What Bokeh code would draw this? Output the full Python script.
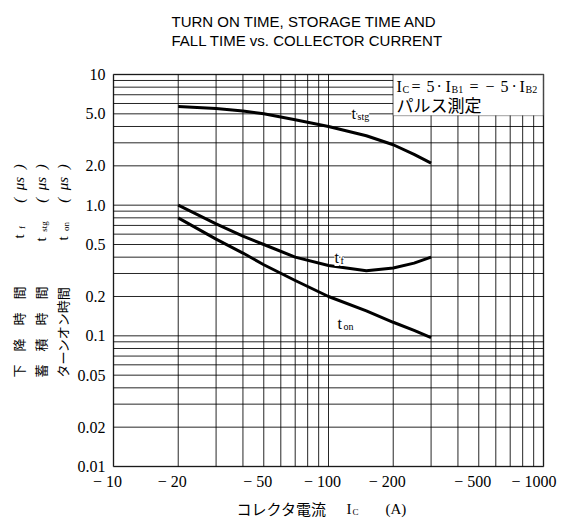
import math
from bokeh.plotting import figure
from bokeh.models import FixedTicker, Label, BoxAnnotation, Range1d, CustomJSTickFormatter
from bokeh.embed import file_html
from bokeh.resources import INLINE

# ---- data ----
ic = [20, 30, 40, 50, 70, 100, 150, 200, 250, 300]
t_stg = [5.7, 5.5, 5.25, 5.0, 4.5, 4.0, 3.4, 2.9, 2.45, 2.1]
t_f = [1.0, 0.72, 0.58, 0.50, 0.40, 0.345, 0.315, 0.33, 0.36, 0.40]
t_on = [0.8, 0.55, 0.43, 0.35, 0.265, 0.2, 0.155, 0.127, 0.11, 0.097]

x_ticks = [10, 20, 50, 100, 200, 500, 1000]
x_tick_labels = ["\u2212 10", "\u2212 20", "\u2212 50", "\u2212 100",
                 "\u2212 200", "\u2212 500", "\u2212 1000"]
y_ticks = [0.01, 0.02, 0.05, 0.1, 0.2, 0.5, 1, 2, 5, 10]
y_tick_labels = ["0.01", "0.02", "0.05", "0.1", "0.2", "0.5", "1.0", "2.0", "5.0", "10"]

x_minor = [m * d for d in (10, 100) for m in range(2, 10) if m * d not in x_ticks]
y_minor = [round(m * d, 4) for d in (0.01, 0.1, 1) for m in range(2, 10)
           if round(m * d, 4) not in y_ticks]

# ---- layout: canvas = whole window, chart area placed inside ----
W, H = 564, 521
CL, CR, CT, CB = 113, 543, 74, 466
DX = (CR - CL) / 2.0
DY = (CB - CT) / 3.0
x_lo = 10 * 10 ** (-CL / DX)
x_hi = 1000 * 10 ** ((W - CR) / DX)
y_lo = 0.01 * 10 ** (-(H - CB) / DY)
y_hi = 10 * 10 ** (CT / DY)

p = figure(width=W, height=H, x_axis_type="log", y_axis_type="log",
           x_range=Range1d(x_lo, x_hi), y_range=Range1d(y_lo, y_hi),
           min_border=0, output_backend="svg", toolbar_location=None)
p.background_fill_color = "white"
p.border_fill_color = "white"
p.outline_line_color = None
p.xgrid.visible = False
p.ygrid.visible = False

xfmt = CustomJSTickFormatter(args=dict(vals=x_ticks, labels=x_tick_labels), code="""
for (let i = 0; i < vals.length; i++) {
  if (Math.abs(Math.log10(tick) - Math.log10(vals[i])) < 1e-6) {
    const padn = (vals[i] == 1000) ? 2 : 3;
    return labels[i] + "\\u00a0".repeat(padn);
  }
}
return "";
""")
yfmt = CustomJSTickFormatter(args=dict(vals=y_ticks, labels=y_tick_labels), code="""
for (let i = 0; i < vals.length; i++) {
  if (Math.abs(Math.log10(tick) - Math.log10(vals[i])) < 1e-6) return labels[i];
}
return "";
""")

p.xaxis.ticker = FixedTicker(ticks=x_ticks, minor_ticks=x_minor)
p.yaxis.ticker = FixedTicker(ticks=y_ticks, minor_ticks=y_minor)
p.xaxis.formatter = xfmt
p.yaxis.formatter = yfmt
p.xaxis.fixed_location = 0.01
p.yaxis.fixed_location = 10
p.xaxis.bounds = (10, 1000)
p.yaxis.bounds = (0.01, 10)
for ax in (p.xaxis, p.yaxis):
    ax.axis_line_color = None
    ax.major_tick_out = 0
    ax.major_tick_in = 0
    ax.minor_tick_out = 0
    ax.minor_tick_in = 0
    ax.major_label_text_font = "Liberation Serif"
    ax.major_label_text_font_size = "16px"
    ax.major_label_text_color = "black"
    ax.axis_label = None
p.yaxis.major_label_standoff = 8
p.xaxis.major_label_standoff = 6

# grid lines of the chart area (at the tick positions)
gx = sorted(x_ticks + x_minor)
gy = sorted(y_ticks + y_minor)
p.segment(x0=gx, y0=[y_ticks[0]] * len(gx), x1=gx, y1=[y_ticks[-1]] * len(gx),
          line_color="black", line_width=1, line_alpha=0.85)
p.segment(x0=[x_ticks[0]] * len(gy), y0=gy, x1=[x_ticks[-1]] * len(gy), y1=gy,
          line_color="black", line_width=1, line_alpha=0.85)

# curves
for ys in (t_stg, t_f, t_on):
    p.line(ic, ys, line_color="black", line_width=3, line_join="round")

# condition box (covers grid)
p.add_layout(BoxAnnotation(left=200, right=1000, bottom=4.85, top=10,
                           fill_color="white", fill_alpha=1.0,
                           line_color="black", line_width=1.2))
# chart frame
p.add_layout(BoxAnnotation(left=10, right=1000, bottom=0.01, top=10,
                           fill_color=None, fill_alpha=0,
                           line_color="black", line_width=2))

def lab(text, X, Y, size, font="Liberation Serif", align="left",
        angle=0.0, bg=None, style="normal"):
    kw = dict(x=X, y=H - Y, x_units="screen", y_units="screen",
              text=text, text_font=font, text_font_size=f"{size}px",
              text_align=align, text_baseline="middle", angle=angle,
              text_color="black", text_font_style=style)
    if bg:
        kw.update(background_fill_color=bg, background_fill_alpha=1.0)
    p.add_layout(Label(**kw))

SERIF = "Liberation Serif"
SANS = "Liberation Sans"
CJK = "Noto Sans CJK JP"

# title
lab("TURN ON TIME, STORAGE TIME AND", 171, 21, 15, SANS)
lab("FALL TIME vs. COLLECTOR CURRENT", 171, 40, 15, SANS)

# condition text
line1 = [("I", 396, 16, 0), ("C", 402, 10, 3), ("=", 411, 16, 0), ("5", 426, 16, 0),
         ("\u00b7", 436, 16, 0), ("I", 445, 16, 0), ("B1", 451, 10, 3),
         ("=", 469, 16, 0), ("\u2212", 485, 16, 0), ("5", 500, 16, 0),
         ("\u00b7", 511, 16, 0), ("I", 519, 16, 0), ("B2", 525, 10, 3)]
for t, X, s, dy in line1:
    lab(t, X, 86 + dy, s, SERIF)
lab("パルス測定", 396, 104, 17, CJK)

# curve labels
lab("t", 351, 113, 16, SERIF, bg="white")
lab("stg", 357, 116, 10, SERIF, bg="white")
lab("t", 334, 257, 16, SERIF, bg="white")
lab("f", 340, 260, 10, SERIF, bg="white")
lab("t", 337, 323, 16, SERIF, bg="white")
lab("on", 343, 326, 10, SERIF, bg="white")

# y-axis labels (rotated columns)
A = math.pi / 2
cols = [(18, "下　降　時　間", "f", 236, 227),
        (40, "蓄　積　時　間", "stg", 239, 226),
        (62, "ターンオン時間", "on", 238, 226)]
for X, kanji, sub, ty, sy in cols:
    lab(kanji, X, 377, 13, CJK, angle=A)
    lab("t", X, ty, 15, SERIF, align="center", angle=A)
    lab(sub, X + 3, sy, 9, SERIF, align="center", angle=A)
    lab("(\u00a0\u00a0\u03bcs\u00a0\u00a0)", X, 183, 15, SERIF, align="center",
        angle=A, style="italic")

# x-axis label
lab("コレクタ電流", 236, 508, 15, CJK)
lab("I", 346, 508, 15, SERIF)
lab("C", 352, 511, 9, SERIF)
lab("(A)", 385, 508, 15, SERIF)

open("out.html", "w").write(file_html(p, INLINE))
